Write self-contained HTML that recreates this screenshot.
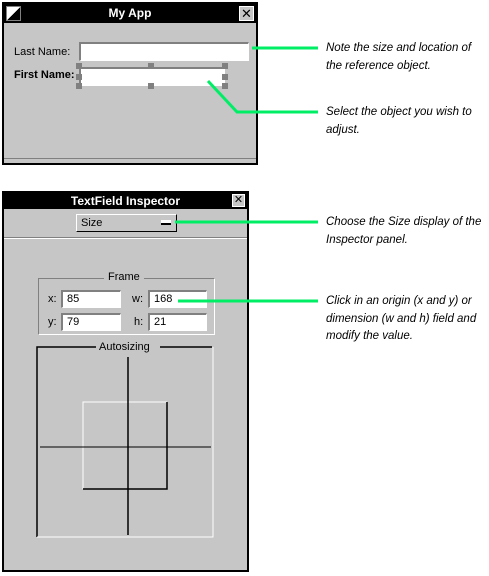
<!DOCTYPE html>
<html><head><meta charset="utf-8"><style>
body{margin:0;width:489px;height:576px;background:#fff;position:relative;overflow:hidden;font-family:"Liberation Sans",sans-serif}
div{position:absolute;box-sizing:border-box}
.win{background:#c6c6c6;border:2px solid #000}
.title{background:#000;color:#fff;font-weight:bold;font-size:12px;text-align:center;left:0;right:0;top:0}
.field{background:#fff;border-top:2px solid #808080;border-left:2px solid #808080;border-right:1px solid #fff;border-bottom:1px solid #fff;font-size:11px;padding-left:4px;line-height:15px}
.lbl{font-size:11px;font-weight:bold}
.note{font-style:italic;font-size:11.5px;line-height:17.5px;left:326px;color:#000}
.h{width:6px;height:6px;background:#808080}
</style></head><body>
<div class="win" style="left:2px;top:2px;width:256px;height:163px">
 <div class="title" style="height:19px;line-height:19px">My App</div>
 <div style="left:2px;top:2px;width:15px;height:15px;background:linear-gradient(135deg,#fff 50%,#000 50%);border:1px solid #808080"></div>
 <div style="right:2px;top:2px;width:15px;height:15px;background:#c6c6c6;border:1px solid #fff;font-size:13px;line-height:13px;text-align:center;color:#000">✕</div>
 <div class="lbl" style="left:10px;top:42px;font-weight:normal">Last Name:</div>
 <div class="field" style="left:75px;top:38px;width:170px;height:19px"></div>
 <div class="lbl" style="left:10px;top:65px">First Name:</div>
 <div class="field" style="left:75px;top:63px;width:146px;height:19px"></div>
 <div style="left:0;right:0;top:154px;height:7px;border-top:1px solid #808080"></div>
</div>
<div class="h" style="left:76px;top:63px"></div><div class="h" style="left:148px;top:63px"></div><div class="h" style="left:222px;top:63px"></div>
<div class="h" style="left:76px;top:74px"></div><div class="h" style="left:222px;top:74px"></div>
<div class="h" style="left:76px;top:83px"></div><div class="h" style="left:148px;top:83px"></div><div class="h" style="left:222px;top:83px"></div>

<div class="win" style="left:2px;top:191px;width:247px;height:381px">
 <div class="title" style="height:16px;line-height:16px">TextField Inspector</div>
 <div style="right:2px;top:1px;width:13px;height:13px;background:#c6c6c6;border:1px solid #fff;font-size:11px;line-height:11px;text-align:center">✕</div>
 <div style="left:72px;top:21px;width:101px;height:18px;border:1px solid;border-color:#fff #000 #000 #fff;font-size:11px;line-height:16px;padding-left:4px">Size<div style="right:5px;top:5px;width:10px;height:5px;background:#fff;border-bottom:2px solid #000"></div></div>
 <div style="left:0;right:0;top:44px;height:2px;border-top:1px solid #808080;border-bottom:1px solid #fff"></div>
 <div style="left:34px;top:85px;width:177px;height:57px;border:1px solid;border-color:#808080 #fff #fff #808080"></div>
 <div style="left:100px;top:78px;background:#c6c6c6;font-size:11px;padding:0 4px">Frame</div>
 <div style="left:44px;top:100px;font-size:11px">x:</div><div class="field" style="left:57px;top:97px;width:60px;height:18px">85</div>
 <div style="left:128px;top:100px;font-size:11px">w:</div><div class="field" style="left:144px;top:97px;width:59px;height:18px">168</div>
 <div style="left:44px;top:123px;font-size:11px">y:</div><div class="field" style="left:57px;top:120px;width:60px;height:18px">79</div>
 <div style="left:130px;top:123px;font-size:11px">h:</div><div class="field" style="left:144px;top:120px;width:59px;height:18px">21</div>
</div>
<svg width="489" height="576" style="position:absolute;left:0;top:0">
 <g>
 <path d="M37 537V347H96M160 347H212" stroke="#000" stroke-width="1.5" fill="none"/>
 <path d="M37 537H213V347" stroke="#fff" stroke-width="1" fill="none"/>
 <path d="M83 489V402H167" stroke="#fff" fill="none"/>
 <path d="M83 489H167V402" stroke="#000" stroke-width="1.5" fill="none"/>
 <line x1="128" y1="357" x2="128" y2="535" stroke="#000" stroke-width="1.5"/>
 <line x1="40" y1="447" x2="211" y2="447" stroke="#000"/>
 </g>
 <g stroke="#00ee66" stroke-width="3" fill="none">
 <line x1="252" y1="48" x2="318" y2="48"/>
 <polyline points="208,81 237,112 318,112"/>
 <line x1="175" y1="222" x2="318" y2="222"/>
 <line x1="178" y1="301" x2="318" y2="301"/>
 </g>
</svg>
<div style="left:96px;top:341px;font-size:11px;background:#c6c6c6;padding:0 3px">Autosizing</div>
<div class="note" style="top:40px">Note the size and location of<br>the reference object.</div>
<div class="note" style="top:104px">Select the object you wish to<br>adjust.</div>
<div class="note" style="top:214px">Choose the Size display of the<br>Inspector panel.</div>
<div class="note" style="top:293px">Click in an origin (x and y) or<br>dimension (w and h) field and<br>modify the value.</div>
</body></html>
